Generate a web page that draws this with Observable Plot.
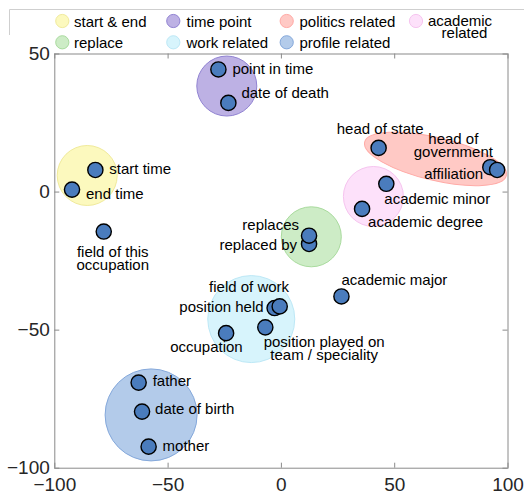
<!DOCTYPE html>
<html><head><meta charset="utf-8">
<script src="https://cdn.jsdelivr.net/npm/d3@7"></script>
<script src="https://cdn.jsdelivr.net/npm/@observablehq/plot@0.6"></script>
<style>
body{margin:0;background:#fff;font-family:"Liberation Sans",Arial,sans-serif;}
#wrap{position:relative;width:524px;height:493px;overflow:hidden;}
#wrap svg{position:absolute;left:0;top:0;}
</style></head><body><div id="wrap"></div>
<script>
// ---- data ----
const clusterNames = ["start & end","time point","politics related","academic related","replace","work related","profile related"];
const clusterX = [-85.7, -24.1, 68.0, 40.6, 13.2, -13.3, -57.5];
const clusterY = [6.0, 38.4, 12.0, -1.6, -16.2, -46.0, -80.7];

const relationNames = ["point in time","date of death","start time","end time","field of this\noccupation",
  "head of state","head of\ngovernment","affiliation","academic minor","academic degree",
  "replaced by","replaces","academic major","position held","field of work",
  "position played on\nteam / speciality","occupation","father","date of birth","mother"];
const relationX = [-27.8,-23.4,-82.1,-92.4,-78.4, 42.9,92.2,95.2,46.3,35.6, 12.2,12.2,26.5,-3.0,-0.75, -7.1,-24.4,-63.0,-61.5,-58.6];
const relationY = [44.4,32.3,8.0,0.9,-14.3, 16.0,9.0,8.0,3.0,-6.1, -18.8,-15.8,-37.8,-42.0,-41.4, -49.0,-51.1,-69.0,-79.5,-92.2];

const xTicks = [-100,-50,0,50,100];
const yTicks = [-100,-50,0,50];

// ---- styles / layout ----
const clusterStyle = {
  "start & end":      {fill:"#fcf9be", stroke:"#f0ea9c", r:30},
  "time point":       {fill:"#bdb1e4", stroke:"#9183d2", r:30},
  "politics related": {fill:"#ffc9c5", stroke:"#ffaaa6", r:10},
  "academic related": {fill:"#fde1fa", stroke:"#f6c4ef", r:30},
  "replace":          {fill:"#cdecc6", stroke:"#a9db9e", r:30},
  "work related":     {fill:"#d7f4fc", stroke:"#bde8f6", r:43.5},
  "profile related":  {fill:"#b3cbea", stroke:"#84a8db", r:46}
};
const legendPos = {
  "start & end":[62.3,21,74], "time point":[173.3,21,186.5], "politics related":[286.7,21,299.5],
  "academic related":[416,21,462], "replace":[62.3,42.3,74], "work related":[173.3,42.3,186.5],
  "profile related":[286.7,42.3,299.5]
};
// [anchor, dx, dy]
const labelPlace = {
  "point in time":["start",14,0], "date of death":["start",13,-9], "start time":["start",14,0],
  "end time":["start",14,5], "field of this\noccupation":["middle",9,28],
  "head of state":["middle",1.5,-18], "head of\ngovernment":["middle",-37,-21.2],
  "affiliation":["end",-14,4.7], "academic minor":["start",-2,16], "academic degree":["start",6,14],
  "replaces":["end",-10,-10], "replaced by":["end",-12,1.7], "academic major":["start",0,-16],
  "field of work":["middle",-30.6,-18.4], "position held":["end",-11,-0.6],
  "position played on\nteam / speciality":["middle",58.8,21.6], "occupation":["middle",-19.7,14.4],
  "father":["start",14,-0.7], "date of birth":["start",13,-1.4], "mother":["start",14,0]
};

const clusters = clusterNames.map((n,i)=>({name:n, x:clusterX[i], y:clusterY[i]}));
const relations = relationNames.map((n,i)=>({name:n, x:relationX[i], y:relationY[i]}));

const ellipseSymbol = {
  draw(ctx){
    const a=72.8, b=21.4, k=0.5523;
    ctx.moveTo(a,0);
    ctx.bezierCurveTo(a,k*b,k*a,b,0,b);
    ctx.bezierCurveTo(-k*a,b,-a,k*b,-a,0);
    ctx.bezierCurveTo(-a,-k*b,-k*a,-b,0,-b);
    ctx.bezierCurveTo(k*a,-b,a,-k*b,a,0);
    ctx.closePath();
  }
};

const circleClusters = clusters.filter(d=>d.name!=="politics related");
const ellipseClusters = clusters.filter(d=>d.name==="politics related");
const FONT = '"Liberation Sans", Arial, sans-serif';
const axisGray = "#8a8a8a";

const W = 524, H = 493, mL = 54.3, mR = 16.5, mT = 53.5, mB = 25.3;
const innerW = W - mL - mR, innerH = H - mT - mB, TICK = 5;

const labelMarks = relations.map(d => Plot.text([d], {
  x:"x", y:"y", text:"name", textAnchor:labelPlace[d.name][0],
  dx:labelPlace[d.name][1], dy:labelPlace[d.name][2],
  fontSize:15, fill:"#000", lineHeight:0.87
}));

const chart = Plot.plot({
  width:W, height:H,
  marginLeft:mL, marginRight:mR, marginTop:mT, marginBottom:mB,
  x:{domain:[-100,100]}, y:{domain:[-100,50]}, r:{type:"identity"},
  style:{fontFamily:FONT, background:"transparent", overflow:"visible"},
  marks:[
    Plot.dot(circleClusters, {x:"x", y:"y", r:d=>clusterStyle[d.name].r,
      fill:d=>clusterStyle[d.name].fill, stroke:d=>clusterStyle[d.name].stroke, strokeWidth:1}),
    Plot.dot(ellipseClusters, {x:"x", y:"y", symbol:ellipseSymbol, r:10, rotate:13.3,
      fill:d=>clusterStyle[d.name].fill, stroke:d=>clusterStyle[d.name].stroke, strokeWidth:1}),
    Plot.frame({stroke:axisGray, strokeWidth:1}),
    // inward ticks on all four sides
    Plot.tickX(xTicks, {x:d=>d, insetTop:innerH - TICK, stroke:axisGray}),
    Plot.tickX(xTicks, {x:d=>d, insetBottom:innerH - TICK, stroke:axisGray}),
    Plot.tickY(yTicks, {y:d=>d, insetRight:innerW - TICK, stroke:axisGray}),
    Plot.tickY(yTicks, {y:d=>d, insetLeft:innerW - TICK, stroke:axisGray}),
    Plot.axisX(xTicks, {anchor:"bottom", tickSize:0, tickPadding:9.5, fontSize:19, fill:"#262626", label:null}),
    Plot.axisY(yTicks, {anchor:"left", tickSize:0, tickPadding:5, fontSize:19, fill:"#262626", label:null}),
    ...labelMarks,
    Plot.dot(relations, {x:"x", y:"y", r:7.6, fill:"#4a7cbd", stroke:"#000", strokeWidth:1.4})
  ]
});
document.getElementById("wrap").appendChild(chart);

// ---- legend (overlay in top margin) ----
const leg = d3.select("#wrap").append("svg").attr("width",524).attr("height",53)
  .style("font-family",FONT).style("font-size","15px");
leg.append("path").attr("d","M9.5,35V9.5H524").attr("fill","none").attr("stroke","#cfcfcf").attr("stroke-width",1);
clusterNames.forEach(n=>{
  const [cx,cy,tx] = legendPos[n], st = clusterStyle[n];
  leg.append("circle").attr("cx",cx).attr("cy",cy).attr("r",6.6)
    .attr("fill",st.fill).attr("stroke",st.stroke).attr("stroke-width",1);
  if (n==="academic related") {
    const t = leg.append("text").attr("text-anchor","middle").attr("fill","#000");
    t.append("tspan").attr("x",tx-2).attr("y",26).text("academic");
    t.append("tspan").attr("x",tx+2.5).attr("y",37.7).text("related");
  } else {
    leg.append("text").attr("x",tx).attr("y",cy+5.5).attr("fill","#000").text(n);
  }
});
</script></body></html>
